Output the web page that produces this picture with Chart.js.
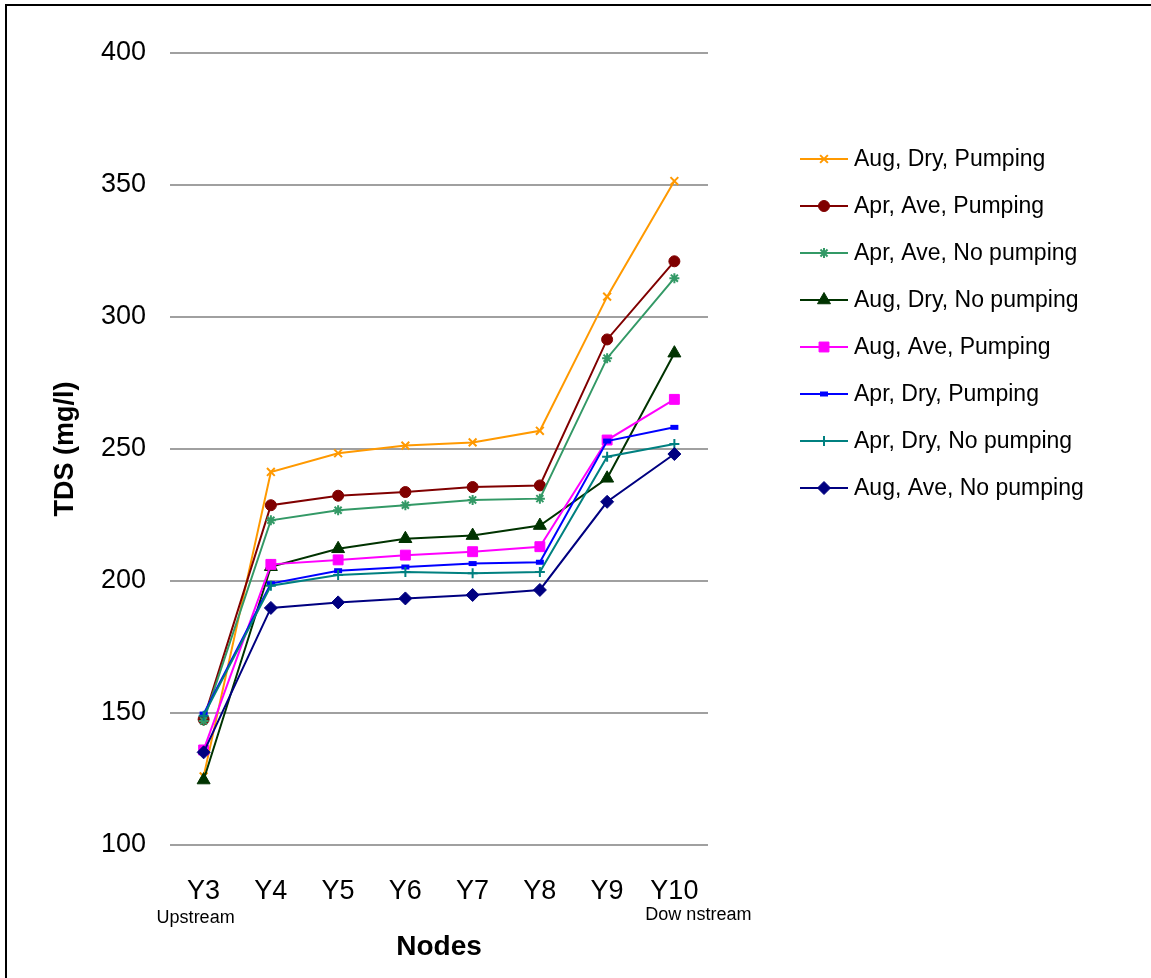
<!DOCTYPE html>
<html>
<head>
<meta charset="utf-8">
<script src="https://cdn.jsdelivr.net/npm/chart.js@4.4.1/dist/chart.umd.min.js"></script>
<style>
  html, body { margin: 0; padding: 0; background: #fff; overflow: hidden; }
  #wrap { position: relative; width: 1151px; height: 978px; }
  #frame { position: absolute; left: 5px; top: 4px; width: 2000px; height: 2000px;
           border-left: 2px solid #000; border-top: 2px solid #000; pointer-events: none; }
</style>
</head>
<body>
<div id="wrap">
  <canvas id="tdsChart" width="1151" height="978"></canvas>
  <div id="frame"></div>
</div>
<script>
// node labels along the river
const nodes = ["Y3", "Y4", "Y5", "Y6", "Y7", "Y8", "Y9", "Y10"];
const yTicks = [100, 150, 200, 250, 300, 350, 400];

// TDS (mg/l) per scenario
const augDryPumping   = [126, 241.3, 248.4, 251.3, 252.5, 256.9, 307.7, 351.5];
const aprAvePumping   = [147.6, 228.7, 232.3, 233.7, 235.6, 236.2, 291.5, 321.1];
const aprAveNoPumping = [147, 223, 226.8, 228.7, 230.7, 231.2, 284.4, 314.7];
const augDryNoPumping = [124.6, 205.4, 212.2, 216, 217.2, 221, 238.9, 286.3];
const augAvePumping   = [136, 206.3, 208, 209.8, 211.1, 213, 253.4, 268.8];
const aprDryPumping   = [149.6, 199, 203.9, 205.3, 206.6, 207.1, 253, 258.2];
const aprDryNoPumping = [149, 198.2, 202.3, 203.4, 202.9, 203.4, 247.1, 251.9];
const augAveNoPumping = [135.1, 189.8, 191.9, 193.4, 194.7, 196.6, 230, 248.1];

const FONT = "'Liberation Sans', Arial, sans-serif";

function series(label, data, color, style, radius, bw) {
  return {
    label: label,
    data: data,
    borderColor: color,
    backgroundColor: color,
    borderWidth: 2,
    pointStyle: style,
    pointRadius: radius,
    pointBorderWidth: bw,
    pointBackgroundColor: color,
    pointBorderColor: color,
    tension: 0
  };
}

const datasets = [
  series("Aug, Dry, Pumping", augDryPumping, "#FF9900", "crossRot", 5.5, 2),
  series("Apr, Ave, Pumping", aprAvePumping, "#800000", "circle", 5.5, 1),
  series("Apr, Ave, No pumping", aprAveNoPumping, "#339966", "star", 5, 2),
  series("Aug, Dry, No pumping", augDryNoPumping, "#003300", "triangle", 7.5, 1),
  series("Aug, Ave, Pumping", augAvePumping, "#FF00FF", "rect", 7, 1),
  series("Apr, Dry, Pumping", aprDryPumping, "#0000FF", "line", 4, 5),
  series("Apr, Dry, No pumping", aprDryNoPumping, "#008080", "cross", 5, 2),
  series("Aug, Ave, No pumping", augAveNoPumping, "#000080", "rectRot", 6.5, 1)
];
// later series sit on top, like the original
datasets.forEach((d, i) => { d.order = datasets.length - i; });

// excel style legend: line with the marker in the middle
const sideLegend = {
  id: "sideLegend",
  afterDraw(chart) {
    const ctx = chart.ctx;
    ctx.save();
    chart.data.datasets.forEach((ds, i) => {
      const y = 159 + i * 47;
      ctx.strokeStyle = ds.borderColor;
      ctx.lineWidth = 2;
      ctx.beginPath();
      ctx.moveTo(800, y);
      ctx.lineTo(848, y);
      ctx.stroke();
      ctx.fillStyle = ds.pointBackgroundColor;
      ctx.strokeStyle = ds.pointBorderColor;
      ctx.lineWidth = ds.pointBorderWidth;
      Chart.helpers.drawPoint(ctx, {
        pointStyle: ds.pointStyle, radius: ds.pointRadius, rotation: 0, borderWidth: ds.pointBorderWidth
      }, 824, y);
      ctx.fillStyle = "#000";
      ctx.font = "23px " + FONT;
      ctx.textAlign = "left";
      ctx.textBaseline = "middle";
      ctx.fillText(ds.label, 854, y + 1);
    });
    ctx.restore();
  }
};

// the two small notes under the first and last node
const endNotes = {
  id: "endNotes",
  afterDraw(chart) {
    const ctx = chart.ctx;
    const x = chart.scales.x;
    const bottom = chart.chartArea.bottom;
    ctx.save();
    ctx.fillStyle = "#000";
    ctx.font = "18px " + FONT;
    ctx.textAlign = "center";
    ctx.textBaseline = "alphabetic";
    ctx.fillText("Upstream", x.getPixelForValue(0) - 8, bottom + 78);
    ctx.fillText("Dow nstream", x.getPixelForValue(nodes.length - 1) + 24, bottom + 75);
    ctx.restore();
  }
};

new Chart(document.getElementById("tdsChart"), {
  type: "line",
  data: { labels: nodes, datasets: datasets },
  options: {
    responsive: false,
    animation: false,
    layout: { padding: { left: 0, top: 53, right: 443, bottom: 0 } },
    plugins: {
      legend: { display: false },
      tooltip: { enabled: false }
    },
    scales: {
      x: {
        offset: true,
        grid: { display: false },
        border: { display: false },
        ticks: { color: "#000", font: { family: FONT, size: 27 }, padding: 22, maxRotation: 0 },
        title: { display: true, text: "Nodes", color: "#000",
                 font: { family: FONT, size: 28, weight: "bold" }, padding: { top: 0, bottom: 14 } },
        afterFit(scale) { scale.height = 133; }
      },
      y: {
        min: 100,
        max: 400,
        afterBuildTicks(scale) { scale.ticks = yTicks.map(v => ({ value: v })); },
        grid: { color: "#a0a0a0", lineWidth: 2, drawTicks: false },
        border: { display: false },
        ticks: { color: "#000", font: { family: FONT, size: 27 }, padding: 24 },
        title: { display: true, text: "TDS (mg/l)", color: "#000",
                 font: { family: FONT, size: 27, weight: "bold" }, padding: { top: 49, bottom: 0 } },
        afterFit(scale) { scale.width = 170; }
      }
    }
  },
  plugins: [sideLegend, endNotes]
});
</script>
</body>
</html>
